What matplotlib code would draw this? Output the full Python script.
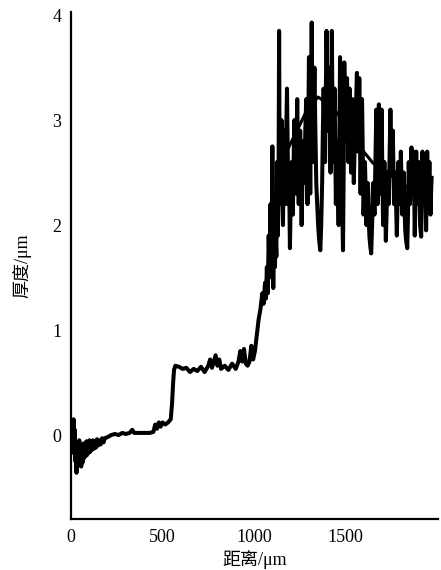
import numpy as np
import matplotlib
matplotlib.use("Agg")
import matplotlib.pyplot as plt

plt.rcParams['font.family'] = ['Liberation Serif', 'Noto Sans CJK SC']

dist = [0, 4, 8, 11, 14, 18, 21, 24, 27, 30, 33, 36, 39, 42, 45, 48, 52, 56,
        60, 64, 68, 72, 76, 80, 84, 88, 92, 96, 100, 105, 110, 115, 120, 125,
        130, 136, 142, 148, 155, 162, 170, 178, 185, 200, 220, 240, 260,
        280, 300, 320, 335, 345, 370, 400, 430, 450, 460, 470, 480, 490, 500,
        515, 530, 545, 552, 558, 563, 570, 590, 610, 630, 650, 670, 690, 710,
        730, 750, 760, 770, 780, 790, 800, 810, 820, 840, 860, 880, 900, 915,
        925, 935, 945, 955, 965, 975, 985, 995,
        1005, 1015, 1025, 1035, 1045, 1052, 1060, 1065, 1070, 1075, 1080,
        1085, 1090, 1095, 1100, 1105, 1110, 1114, 1118, 1122, 1125, 1130,
        1134, 1137, 1140, 1143, 1147, 1150, 1154, 1158, 1162, 1165, 1169,
        1172, 1176, 1180, 1184, 1188, 1192, 1196, 1200, 1205, 1208, 1212,
        1216, 1220, 1224, 1228, 1232, 1236, 1240, 1244, 1248, 1252, 1256,
        1260, 1264, 1268, 1272, 1276, 1280, 1285, 1289, 1292, 1296, 1300,
        1304, 1307, 1311, 1315, 1318, 1322, 1326, 1330, 1335, 1340, 1345,
        1350, 1356, 1362, 1367, 1372, 1376, 1380, 1384, 1388, 1392, 1396,
        1400, 1403, 1406, 1410, 1414, 1418, 1421, 1425, 1428, 1432, 1436,
        1440, 1444, 1447, 1451, 1455, 1458, 1462, 1466, 1470, 1474, 1478,
        1482, 1486, 1490, 1493, 1497, 1500, 1504, 1508, 1512, 1515, 1519,
        1522, 1526, 1530, 1534, 1538, 1542, 1545, 1549, 1553, 1558, 1562,
        1565, 1568, 1572, 1575, 1579, 1582, 1586, 1590, 1594, 1598, 1602,
        1606, 1610, 1614, 1618, 1622, 1626, 1630, 1635, 1640, 1645, 1650,
        1654, 1658, 1663, 1668, 1672, 1675, 1679, 1682, 1686, 1690, 1694,
        1697, 1701, 1705, 1709, 1712, 1716, 1720, 1724, 1728, 1732, 1736,
        1740, 1745, 1749, 1752, 1755, 1758, 1762, 1765, 1769, 1772, 1776,
        1780, 1784, 1788, 1792, 1795, 1799, 1802, 1806, 1810, 1814, 1818,
        1822, 1826, 1831, 1837, 1841, 1845, 1849, 1852, 1856, 1860, 1863,
        1866, 1869, 1872, 1875, 1878, 1882, 1886, 1890, 1893, 1897, 1900,
        1904, 1907, 1910, 1913, 1917, 1920, 1924, 1927, 1931, 1934, 1937,
        1940, 1943, 1946, 1949, 1952, 1955, 1958, 1961, 1964, 1967, 1970]
thick = [0.0, -0.08, 0.12, -0.12, 0.15, -0.18, 0.05, -0.25, -0.1, -0.36,
         -0.12, -0.3, -0.08, -0.28, -0.05, -0.22, -0.1, -0.3, -0.12, -0.26,
         -0.08, -0.22, -0.1, -0.2, -0.06, -0.19, -0.07, -0.17, -0.05, -0.16,
         -0.06, -0.14, -0.05, -0.13, -0.06, -0.12, -0.04, -0.1, -0.05, -0.09,
         -0.03, -0.07, -0.03, -0.02, 0.0, 0.01,
         0.0, 0.02, 0.01, 0.02, 0.05, 0.02, 0.02, 0.02, 0.02, 0.03, 0.1,
         0.06, 0.12, 0.08, 0.12, 0.1, 0.12, 0.15, 0.3, 0.5, 0.62, 0.66, 0.65,
         0.63, 0.64, 0.6, 0.63, 0.61, 0.65, 0.6, 0.66, 0.72, 0.64, 0.7, 0.76,
         0.66, 0.72, 0.63, 0.66, 0.62, 0.68, 0.63, 0.7, 0.8, 0.7, 0.82, 0.68,
         0.66, 0.7, 0.85, 0.72,
         0.8, 0.95, 1.1, 1.2, 1.35, 1.25, 1.45, 1.3, 1.6, 1.35, 1.9,
         1.55, 2.2, 1.5, 2.75, 1.4, 2.3, 1.6, 1.9, 1.7, 2.6, 1.9,
         2.5, 3.85, 2.4, 2.2, 2.7, 3.0, 2.3, 2.0, 2.5, 2.9, 2.4,
         2.2, 2.9, 3.3, 2.7, 2.2, 2.4, 1.78, 2.2, 2.6, 2.3, 2.1,
         2.6, 3.0, 2.5, 2.3, 2.8, 3.2, 2.7, 2.2, 2.5, 2.9, 2.4,
         2.0, 2.4, 2.8, 2.6, 2.4, 2.9, 3.2, 2.6, 2.2, 2.9, 3.6,
         2.8, 2.3, 3.1, 3.93, 3.2, 2.6, 3.1, 3.5, 2.9, 2.4, 2.2,
         2.0, 1.85, 1.76, 2.0, 2.4, 2.9, 3.3, 2.9, 2.6, 3.2, 3.85,
         3.3, 2.9, 3.2, 3.5, 3.0, 2.5, 3.1, 3.85, 3.2, 2.6, 3.0,
         3.3, 2.7, 2.2, 2.5, 2.8, 2.4, 2.0, 2.8, 3.6, 3.0, 2.5,
         2.1, 1.76, 2.6, 3.55, 3.1, 2.8, 3.1, 3.4, 3.0, 2.6, 2.9,
         3.3, 2.9, 2.5, 2.8, 3.2, 2.8, 2.4, 2.7, 3.0, 3.2, 3.45,
         3.0, 2.7, 3.0, 3.4, 2.8, 2.3, 2.8, 3.2, 2.7, 2.1, 2.3,
         2.6, 2.3, 2.0, 2.2, 2.4, 2.1, 1.9, 1.8, 1.73, 2.0, 2.4,
         2.3, 2.1, 2.6, 3.1, 2.6, 2.2, 2.7, 3.15, 2.8, 2.3, 2.6,
         3.1, 2.5, 2.0, 2.2, 2.6, 2.2, 1.85, 2.1, 2.5, 2.3, 2.2,
         2.6, 3.1, 2.7, 2.5, 2.7, 2.9, 2.5, 2.2, 2.3, 2.5, 2.2,
         1.9, 2.2, 2.6, 2.4, 2.2, 2.4, 2.7, 2.4, 2.1, 2.3, 2.5,
         2.2, 1.95, 1.85, 1.78, 2.1, 2.6, 2.4, 2.2, 2.5, 2.74, 2.5,
         2.3, 2.5, 2.7, 2.3, 1.9, 2.3, 2.7, 2.4, 2.2, 2.4, 2.6,
         2.3, 2.0, 1.95, 1.89, 2.3, 2.7, 2.5, 2.3, 2.5, 2.65, 2.3,
         1.95, 2.3, 2.7, 2.4, 2.2, 2.4, 2.6, 2.3, 2.1, 2.3, 2.45]

# smoothed trend through the rough zone
trend_x = [1158, 1200, 1235, 1290, 1350, 1432, 1508, 1580, 1650, 1727, 1836, 1962]
trend_y = [2.62, 2.78, 2.9, 3.1, 3.22, 3.12, 2.93, 2.74, 2.59, 2.5, 2.36, 2.27]

fig = plt.figure(figsize=(4.41, 5.70), dpi=100)
ax = fig.add_axes([71 / 441, 51 / 570, 367 / 441, 507 / 570])

ax.plot(dist, thick, color='black', lw=2.9, solid_joinstyle='round')
ax.plot(trend_x, trend_y, color='black', lw=2.2)

ax.set_xlim(0, 2005)
ax.set_ylim(-0.8, 4.03)
ax.set_xticks([0, 500, 1000, 1500])
ax.set_yticks([0, 1, 2, 3, 4])
ax.tick_params(length=0, labelsize=13, pad=7)
for side in ['top', 'right']:
    ax.spines[side].set_visible(False)
for side in ['left', 'bottom']:
    ax.spines[side].set_linewidth(1.6)

ax.set_xlabel('距离/μm', fontsize=13, labelpad=3)
ax.set_ylabel('厚度/μm', fontsize=13, labelpad=15)

fig.savefig('out.png', dpi=100)
